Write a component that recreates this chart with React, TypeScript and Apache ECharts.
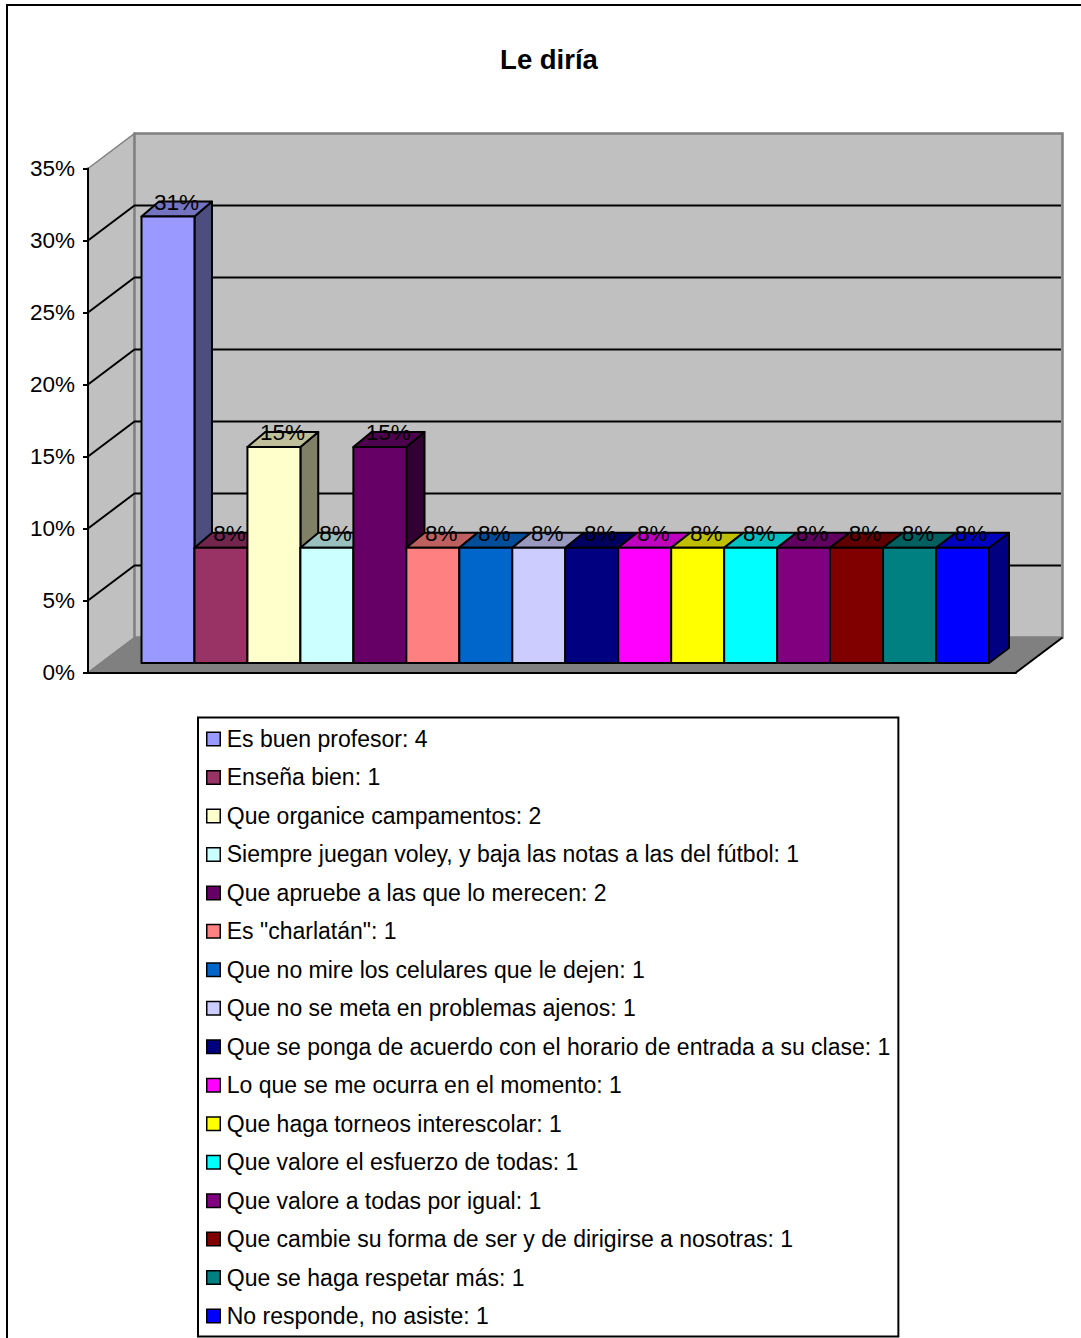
import React, { useEffect, useRef } from "react";
import * as echarts from "echarts";

const titleText = "Le diría";
const categories = [
  "Es buen profesor: 4",
  "Enseña bien: 1",
  "Que organice campamentos: 2",
  "Siempre juegan voley, y baja las notas a las del fútbol: 1",
  "Que apruebe a las que lo merecen: 2",
  'Es "charlatán": 1',
  "Que no mire los celulares que le dejen: 1",
  "Que no se meta en problemas ajenos: 1",
  "Que se ponga de acuerdo con el horario de entrada a su clase: 1",
  "Lo que se me ocurra en el momento: 1",
  "Que haga torneos interescolar: 1",
  "Que valore el esfuerzo de todas: 1",
  "Que valore a todas por igual: 1",
  "Que cambie su forma de ser y de dirigirse a nosotras: 1",
  "Que se haga respetar más: 1",
  "No responde, no asiste: 1",
];
const percentValues = [31, 8, 15, 8, 15, 8, 8, 8, 8, 8, 8, 8, 8, 8, 8, 8];
const barColors = [
  "#9999FF", "#993366", "#FFFFCC", "#CCFFFF", "#660066", "#FF8080", "#0066CC", "#CCCCFF",
  "#000080", "#FF00FF", "#FFFF00", "#00FFFF", "#800080", "#800000", "#008080", "#0000FF",
];
const wallGridValues = [5, 10, 15, 20, 25, 30];
const FONT = '"Liberation Sans", Arial, sans-serif';
const WALL_DX = 46.5;
const WALL_DY = -35;
const BAR_DY = -15;

function shade(hex: string, k: number) {
  const n = parseInt(hex.slice(1), 16);
  const f = (v: number) => Math.round(v * k);
  return `rgb(${f((n >> 16) & 255)},${f((n >> 8) & 255)},${f(n & 255)})`;
}
const barDx = (x: number) => 17.5 + ((x - 195) / 794) * 2.5;

export default function App() {
  const ref = useRef<HTMLDivElement>(null);
  useEffect(() => {
    document.body.style.margin = "0";
    const chart = echarts.init(ref.current!, null, { renderer: "svg" });

    const renderWalls = (params: any, api: any) => {
      const cs = params.coordSys;
      const l = cs.x, r = cs.x + cs.width;
      const t = api.coord([0, 35])[1], b = api.coord([0, 0])[1];
      return {
        type: "group",
        children: [
          { type: "polygon", shape: { points: [[l, t], [l + WALL_DX, t + WALL_DY], [l + WALL_DX, b + WALL_DY], [l, b]] }, style: { fill: "#C0C0C0", stroke: "#808080", lineWidth: 1.5 } },
          { type: "polygon", shape: { points: [[l + WALL_DX, t + WALL_DY], [r + WALL_DX, t + WALL_DY], [r + WALL_DX, b + WALL_DY], [l + WALL_DX, b + WALL_DY]] }, style: { fill: "#C0C0C0", stroke: "#808080", lineWidth: 2.5 } },
          { type: "polygon", shape: { points: [[l, b], [l + WALL_DX, b + WALL_DY], [r + WALL_DX, b + WALL_DY], [r, b]] }, style: { fill: "#808080", stroke: "#808080", lineWidth: 1 } },
          { type: "line", shape: { x1: r, y1: b, x2: r + WALL_DX, y2: b + WALL_DY }, style: { stroke: "#000", lineWidth: 2 } },
        ],
      };
    };
    const renderGridLine = (params: any, api: any) => {
      const cs = params.coordSys;
      const l = cs.x, r = cs.x + cs.width;
      const y = api.coord([0, api.value(0)])[1];
      return {
        type: "polyline",
        shape: { points: [[l, y], [l + WALL_DX, y + WALL_DY], [r + WALL_DX - 1.5, y + WALL_DY]] },
        style: { fill: "none", stroke: "#000", lineWidth: 2 },
      };
    };
    const renderBar = (color: string) => (_params: any, api: any) => {
      const [cx, top] = api.coord([api.value(0), api.value(1)]);
      const [, base] = api.coord([api.value(0), 0]);
      const w = api.size([1, 0])[0];
      const x0 = cx - w / 2, x1 = cx + w / 2;
      const d = barDx(x1);
      const line = { stroke: "#000", lineWidth: 2, lineJoin: "round" };
      return {
        type: "group",
        children: [
          { type: "polygon", shape: { points: [[x1, top], [x1 + d, top + BAR_DY], [x1 + d, base + BAR_DY], [x1, base]] }, style: { fill: shade(color, 0.5), ...line } },
          { type: "polygon", shape: { points: [[x0, top], [x0 + d, top + BAR_DY], [x1 + d, top + BAR_DY], [x1, top]] }, style: { fill: shade(color, 0.75), ...line } },
          { type: "rect", shape: { x: x0, y: top, width: w, height: base - top }, style: { fill: color, ...line } },
        ],
      };
    };
    const renderLabel = (_params: any, api: any) => {
      const [cx, top] = api.coord([api.value(0), api.value(1)]);
      return {
        type: "text",
        style: {
          text: `${api.value(1)}%`,
          x: cx + 8.5,
          y: top + BAR_DY + 0.5,
          align: "center",
          verticalAlign: "middle",
          font: `22.5px ${FONT}`,
          fill: "#000",
        },
      };
    };

    chart.setOption({
      animation: false,
      backgroundColor: "#fff",
      title: {
        text: titleText,
        left: 544,
        top: 40,
        textAlign: "center",
        textStyle: { fontFamily: FONT, fontSize: 27.5, fontWeight: "bold", color: "#000" },
      },
      grid: [
        { left: 88, top: 168.5, width: 928, height: 504 },
        { left: 141.5, top: 159, width: 847.5, height: 504 },
      ],
      xAxis: [
        { gridIndex: 0, type: "category", data: [""], axisLabel: { show: false }, axisTick: { show: false }, axisLine: { show: true, lineStyle: { color: "#000", width: 2 } }, z: 10 },
        { gridIndex: 1, type: "category", data: categories, show: false },
      ],
      yAxis: [
        {
          gridIndex: 0, type: "value", min: 0, max: 35, interval: 5, z: 10,
          splitLine: { show: false },
          axisLine: { show: true, lineStyle: { color: "#000", width: 2 } },
          axisTick: { show: true, length: 5, lineStyle: { color: "#000", width: 2 } },
          axisLabel: { formatter: "{value}%", margin: 13, fontFamily: FONT, fontSize: 22.5, color: "#000" },
        },
        { gridIndex: 1, type: "value", min: 0, max: 35, interval: 5, show: false },
      ],
      legend: {
        orient: "vertical",
        left: 198,
        top: 717.5,
        height: 640,
        padding: [10, 8, 9, 8],
        backgroundColor: "#fff",
        borderColor: "#000",
        borderWidth: 2,
        itemWidth: 13.5,
        itemHeight: 13.5,
        itemGap: 15.47,
        selectedMode: false,
        textStyle: { fontFamily: FONT, fontSize: 23, color: "#000", padding: [0, 0, 0, 1.5] },
        data: categories.map((name, i) => ({
          name,
          icon: "rect",
          itemStyle: { color: barColors[i], borderColor: "#000", borderWidth: 1.5 },
        })),
      },
      series: [
        { type: "custom", name: "walls", xAxisIndex: 0, yAxisIndex: 0, z: 1, silent: true, renderItem: renderWalls, data: [[0]] },
        { type: "custom", name: "gridlines", xAxisIndex: 0, yAxisIndex: 0, z: 1.5, silent: true, renderItem: renderGridLine, data: wallGridValues.map((v) => [v]), encode: { y: 0 } },
        ...categories.map((name, i) => ({
          type: "custom",
          name,
          xAxisIndex: 1,
          yAxisIndex: 1,
          z: 2 + i * 0.01,
          itemStyle: { color: barColors[i] },
          encode: { x: 0, y: 1 },
          renderItem: renderBar(barColors[i]),
          data: [[i, percentValues[i]]],
        })),
        {
          type: "custom",
          name: "labels",
          xAxisIndex: 1,
          yAxisIndex: 1,
          z: 5,
          silent: true,
          encode: { x: 0, y: 1 },
          renderItem: renderLabel,
          data: percentValues.map((v, i) => [i, v]),
        },
      ],
      graphic: [
        {
          type: "polyline",
          silent: true,
          shape: { points: [[7, 1338], [7, 5], [1081, 5]] },
          style: { fill: "none", stroke: "#000", lineWidth: 2 },
        },
      ],
    });
    return () => chart.dispose();
  }, []);
  return <div ref={ref} style={{ position: "absolute", left: 0, top: 0, width: 1081, height: 1338, background: "#fff" }} />;
}
